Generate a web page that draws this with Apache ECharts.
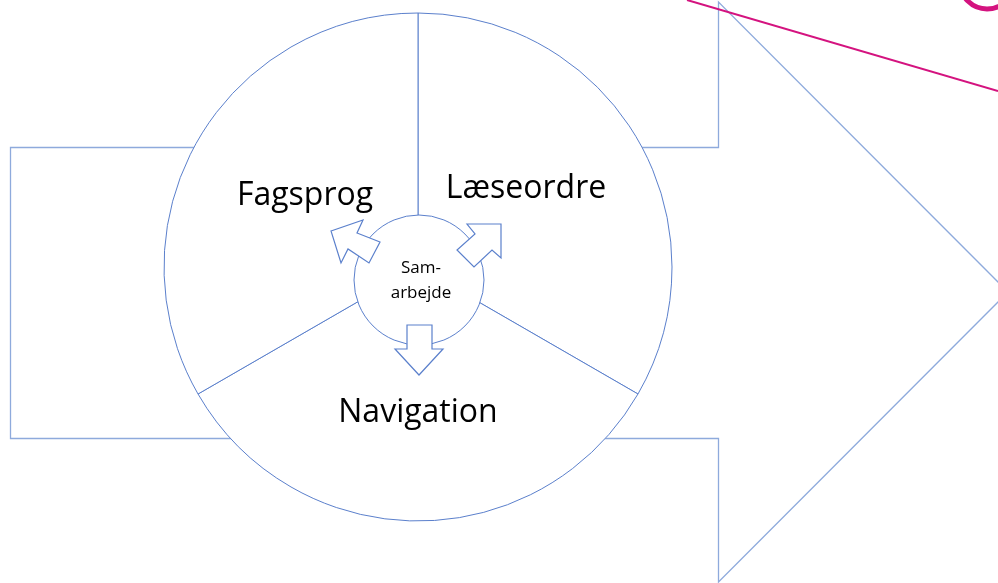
<!DOCTYPE html>
<html>
<head>
<meta charset="utf-8">
<script src="https://cdn.jsdelivr.net/npm/echarts@6/dist/echarts.min.js"></script>
<style>
  html, body { margin: 0; padding: 0; background: #fff; }
  #wheel { width: 998px; height: 583px; }
</style>
</head>
<body>
<div id="wheel"></div>
<script>
  // segmenter i hjulet, med uret fra toppen
  var categories = ['Læseordre', 'Navigation', 'Fagsprog'];
  var values = [1, 1, 1];
  // tekst i midtercirklen
  var centerLines = ['Sam-', 'arbejde'];

  var blue = '#5b80cc';
  var lightBlue = '#8eaadc';
  var magenta = '#d4137f';
  var font = '"Open Sans", "Noto Sans", sans-serif';

  // tekstplacering (layout, ikke data)
  var labelPos = [[526, 189], [418, 413], [305, 196]];

  var chart = echarts.init(document.getElementById('wheel'));

  var graphics = [];

  // stor blokpil bag hjulet
  graphics.push({
    type: 'polygon',
    z: 0,
    shape: { points: [[10.5, 147.5], [718.5, 147.5], [718.5, 2], [1008, 292], [718.5, 582], [718.5, 438.5], [10.5, 438.5]] },
    style: { fill: '#fff', stroke: lightBlue, lineWidth: 1.3 }
  });

  // midtercirkel
  graphics.push({
    type: 'circle',
    z: 10,
    shape: { cx: 419, cy: 280, r: 65 },
    style: { fill: '#fff', stroke: blue, lineWidth: 1 }
  });

  // små pile
  var arrowShapes = [
    [[331, 231], [363, 220], [357, 233], [380, 242], [369, 263], [348, 249], [341, 263]],
    [[501, 224], [467, 224], [475, 234], [457, 250], [474, 267], [492, 250], [501, 258]],
    [[407, 325], [432, 325], [432, 349], [443, 349], [419, 375], [395, 349], [407, 349]]
  ];
  arrowShapes.forEach(function (pts) {
    graphics.push({
      type: 'polygon',
      z: 12,
      shape: { points: pts },
      style: { fill: '#fff', stroke: blue, lineWidth: 1.2 }
    });
  });

  // segmenttekster
  categories.forEach(function (name, i) {
    graphics.push({
      type: 'text',
      z: 20,
      x: labelPos[i][0],
      y: labelPos[i][1],
      style: {
        text: name,
        fill: '#000',
        font: '32px ' + font,
        textAlign: 'center',
        textVerticalAlign: 'middle'
      }
    });
  });

  graphics.push({
    type: 'text',
    z: 20,
    x: 421,
    y: 281,
    style: {
      text: centerLines.join('\n'),
      fill: '#000',
      font: '17px ' + font,
      lineHeight: 25,
      textAlign: 'center',
      textVerticalAlign: 'middle'
    }
  });

  // magenta linje og bue øverst til højre
  graphics.push({
    type: 'line',
    z: 30,
    shape: { x1: 687, y1: 0, x2: 998, y2: 91 },
    style: { stroke: magenta, lineWidth: 2 }
  });
  graphics.push({
    type: 'circle',
    z: 30,
    shape: { cx: 987, cy: -18, r: 27 },
    style: { fill: 'none', stroke: magenta, lineWidth: 5 }
  });

  var option = {
    backgroundColor: '#fff',
    animation: false,
    series: [
      {
        type: 'pie',
        center: [418, 267],
        radius: [0, 254],
        startAngle: 90,
        clockwise: true,
        silent: true,
        z: 2,
        label: { show: false },
        labelLine: { show: false },
        itemStyle: { color: '#fff', borderColor: blue, borderWidth: 1 },
        emphasis: { disabled: true },
        data: categories.map(function (c, i) {
          return { name: c, value: values[i] };
        })
      }
    ],
    graphic: graphics
  };

  chart.setOption(option);
</script>
</body>
</html>
